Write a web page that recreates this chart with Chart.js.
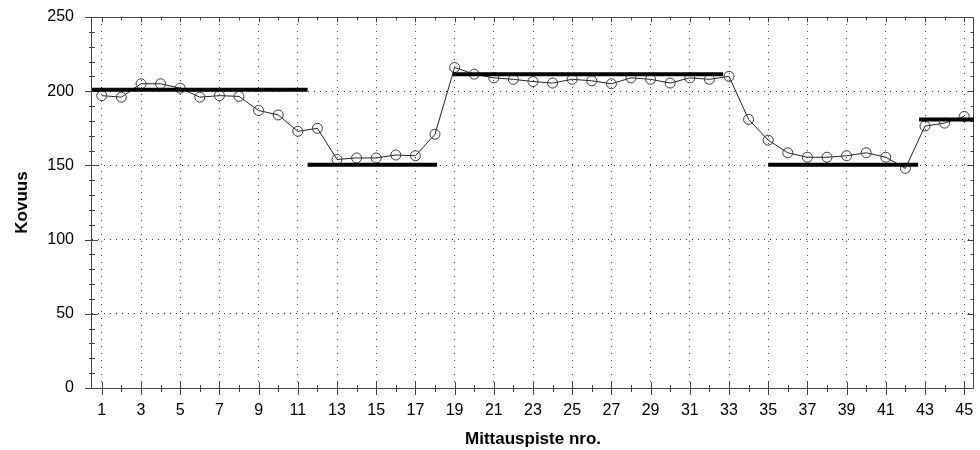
<!DOCTYPE html>
<html>
<head>
<meta charset="utf-8">
<script src="https://cdn.jsdelivr.net/npm/chart.js@4/dist/chart.umd.min.js"></script>
<style>
  html, body { margin: 0; padding: 0; background: #ffffff; }
  #wrap { width: 980px; height: 450px; }
</style>
</head>
<body>
<div id="wrap"><canvas id="c" width="980" height="450"></canvas></div>
<script>
// ---- data ----
const pointNo = [1,2,3,4,5,6,7,8,9,10,11,12,13,14,15,16,17,18,19,20,21,22,23,24,25,26,27,28,29,30,31,32,33,34,35,36,37,38,39,40,41,42,43,44,45];
const hardness = [197,196,205,205,202,196,197,196.5,187,184,173,175,154,155,155,157,156.5,171,216,211.5,209,208,206.5,205.5,208,207,205,209,208,205.5,209,208,210,181,167,158.5,155.5,155.5,156.5,158.5,155.5,148,176.5,178.5,183];

const refStart = [0.5, 11.5, 18.9, 35.0, 42.7];
const refEnd   = [11.5, 18.1, 32.7, 42.65, 45.5];
const refValue = [201, 150.5, 211.5, 150.5, 181];

const xTicks = [1,3,5,7,9,11,13,15,17,19,21,23,25,27,29,31,33,35,37,39,41,43,45];
const yTicks = [0,50,100,150,200,250];

const xTitle = 'Mittauspiste nro.';
const yTitle = 'Kovuus';

// ---- build library data ----
const measured = pointNo.map((n, i) => ({ x: n, y: hardness[i] }));
const refData = [];
refStart.forEach((s, i) => {
  refData.push({ x: s, y: refValue[i] });
  refData.push({ x: refEnd[i], y: refValue[i] });
  if (i < refStart.length - 1) refData.push({ x: (refEnd[i] + refStart[i + 1]) / 2, y: null });
});

Chart.defaults.font.family = "'Liberation Sans', Arial, sans-serif";
Chart.defaults.color = '#000';

// frame and tick marks drawn from the scales
const axisMarks = {
  id: 'axisMarks',
  beforeDatasetsDraw(chart) {
    const { ctx, chartArea: a, scales: { x, y } } = chart;
    const L = a.left - 0.5, R = a.right - 0.5, T = a.top + 0.5, B = a.bottom + 0.5;
    ctx.save();
    ctx.strokeStyle = '#444';
    ctx.lineWidth = 1;
    ctx.beginPath();
    ctx.rect(L, T, R - L, B - T);
    for (let v = Math.ceil(x.min); v <= Math.floor(x.max); v++) {
      const px = Math.round(x.getPixelForValue(v)) + 0.5;
      const major = v % 2 === 1;
      const h = major ? 6.5 : 3.5;
      ctx.moveTo(px, B - h); ctx.lineTo(px, B + h);
      ctx.moveTo(px, T); ctx.lineTo(px, T + (major ? 5 : 3));
    }
    for (let v = y.min; v <= y.max; v += 10) {
      const py = Math.round(y.getPixelForValue(v)) + 0.5;
      const major = v % 50 === 0;
      if (major) { ctx.moveTo(L - 6.5, py); ctx.lineTo(L + 6.5, py); }
      else { ctx.moveTo(L - 2.5, py); ctx.lineTo(L + 3.5, py); }
      ctx.moveTo(R, py); ctx.lineTo(R - (major ? 6 : 3), py);
    }
    ctx.stroke();
    ctx.restore();
  }
};

new Chart(document.getElementById('c'), {
  type: 'line',
  data: {
    datasets: [
      {
        label: 'Tavoite',
        data: refData,
        borderColor: '#000',
        borderWidth: 4,
        pointRadius: 0,
        spanGaps: false,
        tension: 0,
        order: 0
      },
      {
        label: 'Kovuus',
        data: measured,
        borderColor: '#222',
        borderWidth: 1,
        tension: 0,
        pointRadius: 5,
        pointBorderWidth: 1,
        pointBorderColor: '#3a3a3a',
        pointBackgroundColor: 'rgba(0,0,0,0)',
        order: 1
      }
    ]
  },
  options: {
    responsive: false,
    animation: false,
    events: [],
    layout: { padding: { top: 17, right: 1, bottom: 0, left: 0 } },
    plugins: { legend: { display: false }, tooltip: { enabled: false } },
    scales: {
      x: {
        type: 'linear',
        min: 0.5,
        max: 45.5,
        afterFit(s) { s.height = 62; s.paddingLeft = 0; s.paddingRight = 0; },
        afterBuildTicks(s) { s.ticks = xTicks.map(v => ({ value: v })); },
        ticks: {
          autoSkip: false,
          maxRotation: 0,
          padding: 13,
          font: { size: 16 },
          color: '#000',
          callback: v => String(v)
        },
        grid: { display: true, drawTicks: false, color: '#444', lineWidth: 1 },
        border: { display: false, dash: [1, 6] },
        title: {
          display: true,
          text: xTitle,
          font: { size: 17, weight: 'bold' },
          color: '#000',
          padding: { top: 0, bottom: 0 }
        }
      },
      y: {
        min: 0,
        max: 250,
        afterFit(s) { s.width = 92; s.paddingTop = 0; s.paddingBottom = 0; },
        afterBuildTicks(s) { s.ticks = yTicks.map(v => ({ value: v })); },
        ticks: {
          padding: 18,
          font: { size: 16 },
          color: '#000',
          callback: v => String(v)
        },
        grid: { display: true, drawTicks: false, color: '#333', lineWidth: 1 },
        border: { display: false, dash: [1, 5] },
        title: {
          display: true,
          text: yTitle,
          font: { size: 17, weight: 'bold' },
          color: '#000',
          padding: { top: 12, bottom: 0 }
        }
      }
    }
  },
  plugins: [axisMarks]
});
</script>
</body>
</html>
